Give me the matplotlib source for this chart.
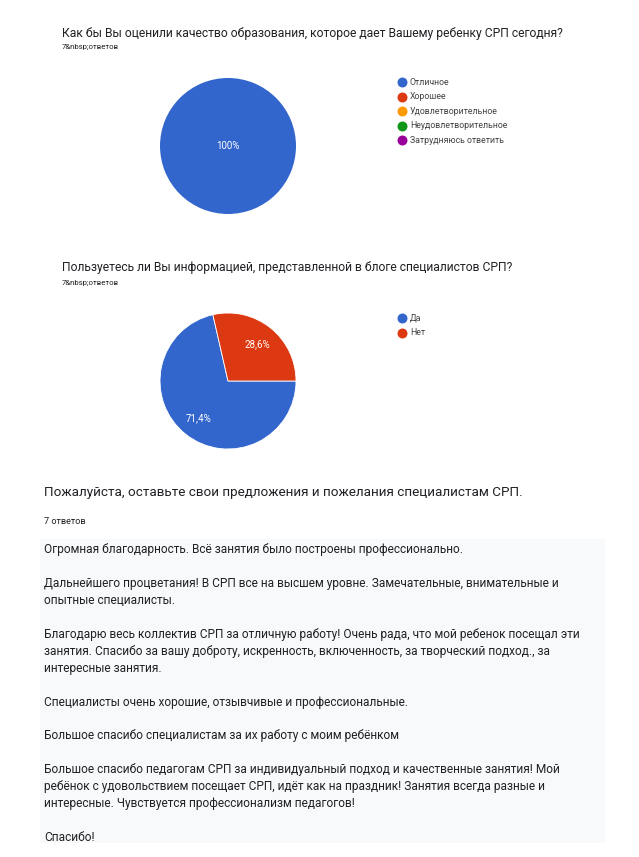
import matplotlib
matplotlib.use('Agg')
import matplotlib.pyplot as plt
from matplotlib.patches import Rectangle

plt.rcParams['font.family'] = ['Roboto', 'DejaVu Sans']

# --- данные ---
q1_title = 'Как бы Вы оценили качество образования, которое дает Вашему ребенку СРП сегодня?'
q1_labels = ['Отличное', 'Хорошее', 'Удовлетворительное', 'Неудовлетворительное', 'Затрудняюсь ответить']
q1_values = [7, 0, 0, 0, 0]

q2_title = 'Пользуетесь ли Вы информацией, представленной в блоге специалистов СРП?'
q2_labels = ['Да', 'Нет']
q2_values = [5, 2]

count_text = '7&nbsp;ответов'
colors = ['#3366cc', '#dc3912', '#ff9900', '#109618', '#990099']

q3_title = 'Пожалуйста, оставьте свои предложения и пожелания специалистам СРП.'
q3_count = '7 ответов'
answers = [
    'Огромная благодарность. Всё занятия было построены профессионально.',
    'Дальнейшего процветания! В СРП все на высшем уровне. Замечательные, внимательные и\nопытные специалисты.',
    'Благодарю весь коллектив СРП за отличную работу! Очень рада, что мой ребенок посещал эти\nзанятия. Спасибо за вашу доброту, искренность, включенность, за творческий подход., за\nинтересные занятия.',
    'Специалисты очень хорошие, отзывчивые и профессиональные.',
    'Большое спасибо специалистам за их работу с моим ребёнком',
    'Большое спасибо педагогам СРП за индивидуальный подход и качественные занятия! Мой\nребёнок с удовольствием посещает СРП, идёт как на праздник! Занятия всегда разные и\nинтересные. Чувствуется профессионализм педагогов!',
    'Спасибо!',
]

W, H = 639, 857
fig = plt.figure(figsize=(W / 100, H / 100), dpi=100)
fig.patch.set_facecolor('white')

# слой для текста в пикселях
bg = fig.add_axes([0, 0, 1, 1])
bg.set_xlim(0, W)
bg.set_ylim(H, 0)
bg.axis('off')


def pct_fmt(p):
    if p < 0.05:
        return ''
    s = '%.1f%%' % p
    s = s.replace('.0%', '%').replace('.', ',')
    return s


def draw_pie(cx, cy, r, values, start, pctd, lw):
    ax = fig.add_axes([(cx - r) / W, 1 - (cy + r) / H, 2 * r / W, 2 * r / H])
    ax.pie(values, colors=colors[:len(values)],
           startangle=start, counterclock=True,
           autopct=pct_fmt, pctdistance=pctd,
           wedgeprops=dict(linewidth=lw, edgecolor='white'),
           textprops=dict(color='white', fontsize=7))
    ax.set_xlim(-1, 1)
    ax.set_ylim(-1, 1)
    ax.axis('off')


def draw_legend(x, y0, labels, step=14.5):
    for i, lab in enumerate(labels):
        y = y0 + i * step
        bg.scatter([x], [y], s=38, color=colors[i], zorder=3)
        bg.text(x + 8, y, lab, fontsize=6.35, color='#444444', va='center', ha='left')


# вопрос 1
bg.text(62, 33, q1_title, fontsize=8.7, color='#202124', va='center')
bg.text(62, 47, count_text, fontsize=5.6, color='#202124', va='center')
draw_pie(228, 146, 68, q1_values, 90, 0.0, 0)
draw_legend(402, 82, q1_labels)

# вопрос 2
bg.text(62, 268, q2_title, fontsize=8.7, color='#202124', va='center')
bg.text(62, 283, count_text, fontsize=5.6, color='#202124', va='center')
draw_pie(228, 381, 68, q2_values, 360 * q2_values[1] / sum(q2_values), 0.7, 0.6)
draw_legend(402, 318, q2_labels)

# вопрос 3
bg.text(44, 492, q3_title, fontsize=9.7, color='#202124', va='center')
bg.text(44, 522, q3_count, fontsize=6.6, color='#202124', va='center')
bg.add_patch(Rectangle((40, 539), 565, 304, facecolor='#f8f9fa', edgecolor='none', zorder=0))

line_h = 16.9
y = 550
for a in answers:
    for ln in a.split('\n'):
        bg.text(44, y, ln, fontsize=8.6, color='#202124', va='center')
        y += line_h
    y += line_h

fig.savefig('out.png', dpi=100)
